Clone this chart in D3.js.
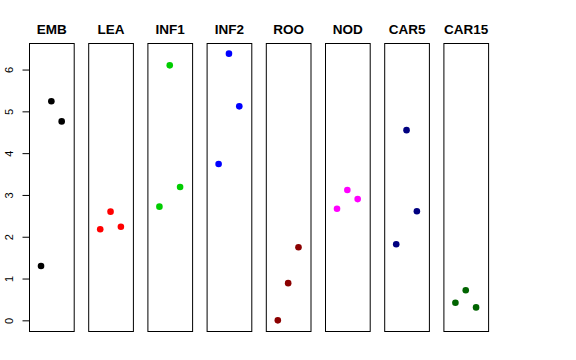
<!DOCTYPE html>
<html>
<head>
<meta charset="utf-8">
<script src="https://cdn.jsdelivr.net/npm/d3@7"></script>
<style>
  html, body { margin: 0; padding: 0; background: #fff; }
  svg { display: block; }
</style>
</head>
<body>
<svg id="chart" width="576" height="360"></svg>
<script>
// Data
const categories = ["EMB", "LEA", "INF1", "INF2", "ROO", "NOD", "CAR5", "CAR15"];
const colors = ["#000000", "#FF0000", "#00CD00", "#0000FF", "#8B0000", "#FF00FF", "#000080", "#006400"];
// values at left / middle / right jitter positions
const leftValues   = [1.30, 2.18, 2.72, 3.74, 0.00, 2.67, 1.82, 0.42];
const middleValues = [5.24, 2.60, 6.10, 6.38, 0.89, 3.12, 4.55, 0.72];
const rightValues  = [4.76, 2.24, 3.19, 5.12, 1.75, 2.90, 2.61, 0.31];
const jitterPositions = [-1, 0, 1];
const yTicks = [0, 1, 2, 3, 4, 5, 6];

const svg = d3.select("#chart");
const font = "Liberation Sans, Arial, Helvetica, sans-serif";

const all = leftValues.concat(middleValues, rightValues);
const ymin = d3.min(all), ymax = d3.max(all);
const pad = (ymax - ymin) * 0.04;
const y = d3.scaleLinear().domain([ymin - pad, ymax + pad]).range([331, 43]);

const bw = 44.7;
const step = 59.2;
const jx = d3.scaleLinear().domain([-1.5, 1.5]).range([-15.5, 15.5]);

categories.forEach((c, i) => {
  const x0 = 29 + i * step;
  const g = svg.append("g").attr("transform", `translate(${x0},0)`);
  g.append("rect")
    .attr("x", 0.5).attr("y", y.range()[1] + 0.5)
    .attr("width", bw).attr("height", y.range()[0] - y.range()[1])
    .attr("fill", "none").attr("stroke", "#000").attr("stroke-width", 1);
  g.append("text")
    .attr("x", bw / 2 + 0.5).attr("y", 34)
    .attr("text-anchor", "middle")
    .attr("font-family", font).attr("font-weight", "bold").attr("font-size", 13.5)
    .text(c);
  const pts = [leftValues[i], middleValues[i], rightValues[i]].map((v, k) => ({ v, p: jitterPositions[k] }));
  g.selectAll("circle").data(pts).enter().append("circle")
    .attr("cx", d => bw / 2 + jx(d.p))
    .attr("cy", d => y(d.v))
    .attr("r", 3.3)
    .attr("fill", colors[i]);
});

// y axis on first panel
const axis = d3.axisLeft(y).tickValues(yTicks).tickSize(7).tickPadding(4).tickFormat(d3.format("d"));
const ag = svg.append("g").attr("transform", "translate(29.5,0)").call(axis);
ag.select(".domain").remove();
ag.selectAll(".tick line").attr("stroke", "#000");
ag.selectAll(".tick text")
  .attr("font-family", font).attr("font-size", 11).attr("fill", "#000")
  .attr("transform", "rotate(-90)")
  .attr("x", 0).attr("y", -17)
  .attr("dy", "0")
  .attr("text-anchor", "middle");
</script>
</body>
</html>
